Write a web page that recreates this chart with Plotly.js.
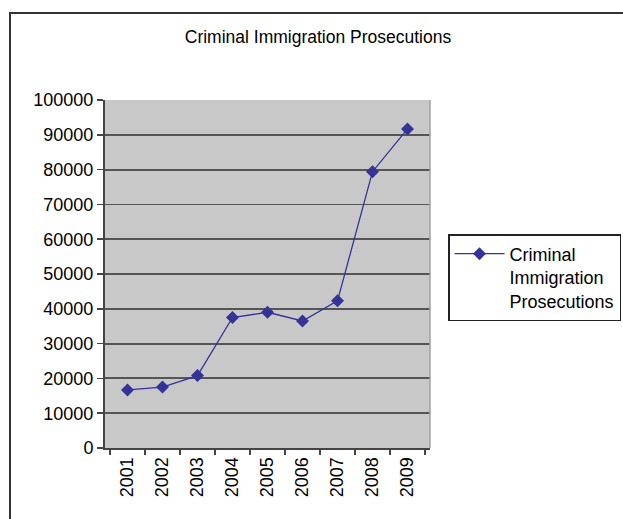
<!DOCTYPE html>
<html>
<head>
<meta charset="utf-8">
<script src="https://cdn.plot.ly/plotly-3.0.1.min.js"></script>
<style>
  html, body { margin: 0; padding: 0; background: #ffffff; }
  #chart { width: 623px; height: 519px; }
</style>
</head>
<body>
<div id="chart"></div>
<script>
const years = ['2001', '2002', '2003', '2004', '2005', '2006', '2007', '2008', '2009'];
const prosecutions = [16700, 17500, 20800, 37500, 39000, 36500, 42300, 79400, 91700];
const seriesName = 'Criminal<br>Immigration<br>Prosecutions';
const chartTitle = 'Criminal Immigration Prosecutions';
const yTicks = [0, 10000, 20000, 30000, 40000, 50000, 60000, 70000, 80000, 90000, 100000];

const FONT = 'Liberation Sans, Arial, sans-serif';

const trace = {
  x: years,
  y: prosecutions,
  type: 'scatter',
  mode: 'lines+markers',
  name: seriesName,
  line: { color: '#333399', width: 1.3 },
  marker: { symbol: 'diamond', size: 10, color: '#333399' }
};

const layout = {
  width: 623,
  height: 519,
  margin: { l: 105, r: 193, t: 100, b: 71, autoexpand: false },
  paper_bgcolor: '#ffffff',
  plot_bgcolor: '#c8c8c8',
  font: { family: FONT, size: 18, color: '#000000' },
  title: {
    text: chartTitle,
    font: { family: FONT, size: 17.5, color: '#000000' },
    xref: 'container', x: 318 / 623, xanchor: 'center',
    yref: 'container', y: 1 - 37 / 519, yanchor: 'middle'
  },
  xaxis: {
    type: 'category',
    tickson: 'boundaries',
    ticks: 'outside',
    ticklen: 5,
    tickwidth: 1.5,
    tickcolor: '#444444',
    tickangle: -90,
    showgrid: false,
    showline: true,
    linecolor: '#444444',
    linewidth: 2,
    zeroline: false,
    automargin: false,
    tickfont: { family: FONT, size: 18, color: '#000000' },
    fixedrange: true
  },
  yaxis: {
    range: [0, 100000],
    tickvals: yTicks,
    ticktext: yTicks.map(String),
    ticks: 'outside',
    ticklen: 6,
    tickwidth: 1.5,
    tickcolor: '#444444',
    showgrid: true,
    gridcolor: '#555555',
    gridwidth: 1.8,
    showline: true,
    linecolor: '#444444',
    linewidth: 2,
    zeroline: false,
    automargin: false,
    tickfont: { family: FONT, size: 18, color: '#000000' },
    fixedrange: true
  },
  showlegend: true,
  legend: {
    x: (448 - 105) / 325,
    xanchor: 'left',
    y: (448 - 234) / 348,
    yanchor: 'top',
    bordercolor: '#222222',
    borderwidth: 1.5,
    bgcolor: '#ffffff',
    itemwidth: 50,
    valign: 'top',
    font: { family: FONT, size: 18, color: '#000000' }
  },
  shapes: [
    {
      type: 'line', xref: 'paper', yref: 'paper',
      x0: 1, x1: 1, y0: 0, y1: 1,
      line: { color: '#a0a0a0', width: 1.5 }
    },
    {
      type: 'rect', xref: 'paper', yref: 'paper',
      x0: (10 - 105) / 325, x1: 2,
      y0: -1, y1: (448 - 13) / 348,
      line: { color: '#333333', width: 2 },
      fillcolor: 'rgba(0,0,0,0)',
      layer: 'below'
    }
  ]
};

Plotly.newPlot('chart', [trace], layout, { staticPlot: true, displayModeBar: false });
</script>
</body>
</html>
